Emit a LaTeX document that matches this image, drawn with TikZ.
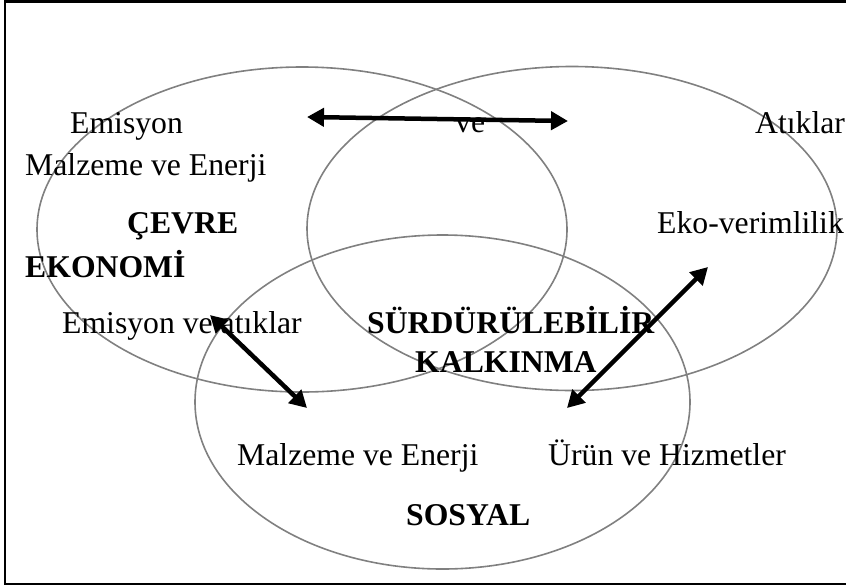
\documentclass[tikz,border=0pt]{standalone}
\usepackage{fontspec}
\setmainfont{Liberation Serif}
\usetikzlibrary{arrows.meta}
\definecolor{ringgray}{HTML}{808080}
\begin{document}
\begin{tikzpicture}[x=1pt,y=-1pt,
  ring/.style={draw=ringgray, line width=1.6pt},
  lbl/.style={anchor=base west, inner sep=0pt, font=\fontsize{31.7}{36}\selectfont},
  blbl/.style={anchor=base west, inner sep=0pt, font=\fontsize{31.7}{36}\selectfont\bfseries},
  dbl/.style={line width=4.5pt, {Triangle[length=17pt,width=18pt]}-{Triangle[length=17pt,width=18pt]}}]
\useasboundingbox (0,0) rectangle (846,587);
\draw[line width=2.2pt] (846,1.5) -- (5,1.5) -- (5,584) -- (846,584);
% circles
\draw[ring] (302,229.5) ellipse [x radius=265pt, y radius=162.5pt];
\draw[ring] (572,228.5) ellipse [x radius=265pt, y radius=162pt];
\draw[ring] (442.5,402) ellipse [x radius=247.5pt, y radius=167pt];
% labels
\node[lbl] (em1) at (70,133) {Emisyon};
\node[lbl] (mve1) at (25,175) {Malzeme ve Enerji};
\node[lbl] (ve) at (455,132) {ve};
\node[lbl] (atik) at (755,133) {Atıklar};
\node[blbl] (cevre) at (127,233) {ÇEVRE};
\node[blbl] (eko) at (25,277) {EKONOMİ};
\node[lbl] (ekover) at (657,233) {Eko-verimlilik};
\node[lbl] (emat) at (62,333) {Emisyon ve atıklar};
\node[blbl] (surd) at (367,333) {SÜRDÜRÜLEBİLİR};
\node[blbl] (kalk) at (415,372) {KALKINMA};
\node[lbl] (mve2) at (237,465) {Malzeme ve Enerji};
\node[lbl] (urun) at (548,465) {Ürün ve Hizmetler};
\node[blbl] (sosyal) at (406,525) {SOSYAL};
% arrow ends
\coordinate (ta) at (307,117);
\coordinate (tb) at (568,121);
\coordinate (la) at (210,315);
\coordinate (lb) at (307,408);
\coordinate (ra) at (708,267);
\coordinate (rb) at (567,408);
\draw[dbl] (ta) -- (tb);
\draw[dbl] (la) -- (lb);
\draw[dbl] (ra) -- (rb);
\end{tikzpicture}
\end{document}
